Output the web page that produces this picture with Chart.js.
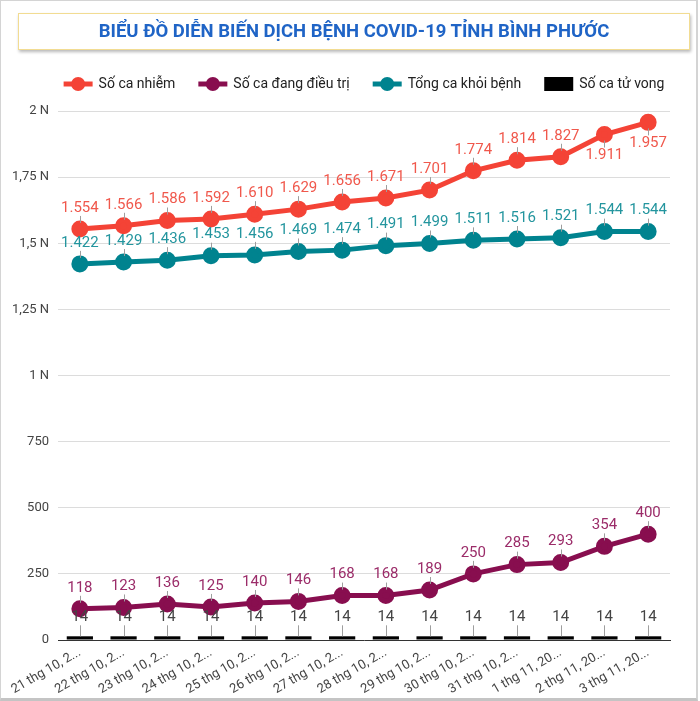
<!DOCTYPE html>
<html>
<head>
<meta charset="utf-8">
<script src="https://cdn.jsdelivr.net/npm/chart.js@4.4.0/dist/chart.umd.min.js"></script>
<style>
	body { margin: 0; background: #fff; font-family: Roboto, sans-serif; }
	#khung { position: relative; width: 698px; height: 701px; box-sizing: border-box;
		border: 1px solid #d4d4d4; border-right-width: 2px; border-bottom: 3px solid #c4c4c4; }
	#tieude { position: absolute; left: 17px; top: 12px; width: 672px; height: 37px; box-sizing: border-box;
		border: 1px solid #f2dc92; box-shadow: 1px 2px 3px rgba(0,0,0,0.28); background: #fff;
		text-align: center; line-height: 35px; font-weight: bold; font-size: 18.5px; color: #1f64c6; z-index: 2; }
	#canvas { position: absolute; left: 0; top: 0; }
</style>
</head>
<body>
<div id="khung">
	<div id="tieude">BIỂU ĐỒ DIỄN BIẾN DỊCH BỆNH COVID-19 TỈNH BÌNH PHƯỚC</div>
	<canvas id="canvas" width="695" height="697"></canvas>
</div>
<script>
// du lieu doc tu bieu do
var ngay = ['21 thg 10, 2021', '22 thg 10, 2021', '23 thg 10, 2021', '24 thg 10, 2021', '25 thg 10, 2021',
	'26 thg 10, 2021', '27 thg 10, 2021', '28 thg 10, 2021', '29 thg 10, 2021', '30 thg 10, 2021',
	'31 thg 10, 2021', '1 thg 11, 2021', '2 thg 11, 2021', '3 thg 11, 2021'];
var soCaNhiem = [1554, 1566, 1586, 1592, 1610, 1629, 1656, 1671, 1701, 1774, 1814, 1827, 1911, 1957];
var dangDieuTri = [118, 123, 136, 125, 140, 146, 168, 168, 189, 250, 285, 293, 354, 400];
var khoiBenh = [1422, 1429, 1436, 1453, 1456, 1469, 1474, 1491, 1499, 1511, 1516, 1521, 1544, 1544];
var tuVong = [14, 14, 14, 14, 14, 14, 14, 14, 14, 14, 14, 14, 14, 14];
var mocTrucY = [0, 250, 500, 750, 1000, 1250, 1500, 1750, 2000];

function soDep(v) {
	// 1554 -> 1.554
	return String(v).replace(/\B(?=(\d{3})+(?!\d))/g, '.');
}

var nhanSo = {
	id: 'nhanSo',
	afterDatasetsDraw: function(chart) {
		var ctx = chart.ctx;
		ctx.save();
		ctx.font = '15px Roboto';
		ctx.textAlign = 'center';
		ctx.textBaseline = 'middle';
		chart.data.datasets.forEach(function(ds, i) {
			var meta = chart.getDatasetMeta(i);
			meta.data.forEach(function(el, j) {
				var x = el.x, y = el.y, ty, l1, l2;
				if (ds.type == 'line') {
					if (y - 32 < chart.chartArea.top) {
						ty = y + 21; l1 = y + 6; l2 = y + 13;
					} else {
						ty = y - 21; l1 = y - 6; l2 = y - 13;
					}
				} else {
					ty = y - 19; l1 = y; l2 = y - 11;
				}
				ctx.strokeStyle = '#9e9e9e';
				ctx.lineWidth = 1;
				ctx.beginPath();
				ctx.moveTo(Math.round(x) + 0.5, l1);
				ctx.lineTo(Math.round(x) + 0.5, l2);
				ctx.stroke();
				ctx.fillStyle = ds.nhanMau;
				ctx.fillText(soDep(ds.data[j]), x, ty);
			});
		});
		ctx.restore();
	}
};

var chuGiai = {
	id: 'chuGiai',
	afterDraw: function(chart) {
		var ctx = chart.ctx;
		var area = chart.chartArea;
		ctx.save();
		ctx.font = '14px Roboto';
		ctx.textBaseline = 'middle';
		var mW = 29, gap = 6, khoang = 23;
		var tong = 0;
		chart.data.datasets.forEach(function(ds, i) {
			tong += mW + gap + ctx.measureText(ds.label).width + (i > 0 ? khoang : 0);
		});
		var x = (area.left + area.right) / 2 - tong / 2;
		var y = 83;
		chart.data.datasets.forEach(function(ds) {
			if (ds.type == 'line') {
				ctx.strokeStyle = ds.borderColor;
				ctx.lineWidth = 5;
				ctx.beginPath();
				ctx.moveTo(x, y);
				ctx.lineTo(x + mW, y);
				ctx.stroke();
				ctx.fillStyle = ds.borderColor;
				ctx.beginPath();
				ctx.arc(x + mW / 2, y, 7, 0, Math.PI * 2);
				ctx.fill();
			} else {
				ctx.fillStyle = ds.backgroundColor;
				ctx.fillRect(x, y - 7, mW, 14);
			}
			x += mW + gap;
			ctx.fillStyle = '#222';
			ctx.fillText(ds.label, x, y);
			x += ctx.measureText(ds.label).width + khoang;
		});
		ctx.restore();
	}
};

function dataLine(nhan, du, mau, nhanMau) {
	return {
		type: 'line', label: nhan, data: du,
		borderColor: mau, backgroundColor: mau,
		pointBackgroundColor: mau, pointBorderColor: mau,
		borderWidth: 5, pointRadius: 6, pointHoverRadius: 6,
		tension: 0, fill: false, nhanMau: nhanMau
	};
}

var ctx = document.getElementById('canvas').getContext('2d');
var chart = new Chart(ctx, {
	type: 'bar',
	data: {
		labels: ngay,
		datasets: [
			dataLine('Số ca nhiễm', soCaNhiem, '#f44336', '#f0584c'),
			dataLine('Số ca đang điều trị', dangDieuTri, '#880e4f', '#9b2c69'),
			dataLine('Tổng ca khỏi bệnh', khoiBenh, '#00838f', '#23959e'),
			{
				type: 'bar', label: 'Số ca tử vong', data: tuVong,
				backgroundColor: '#000', barPercentage: 0.75, categoryPercentage: 0.8,
				nhanMau: '#444'
			}
		]
	},
	options: {
		responsive: false,
		animation: false,
		events: [],
		layout: { padding: { top: 110, right: 26, left: 0, bottom: 0 } },
		plugins: {
			legend: { display: false },
			tooltip: { enabled: false }
		},
		scales: {
			x: {
				grid: { display: true, color: 'transparent', drawTicks: false },
				border: { display: true, color: '#333', width: 1 },
				ticks: {
					color: '#444', font: { family: 'Roboto', size: 13 },
					minRotation: 30, maxRotation: 30, padding: 5, autoSkip: false,
					callback: function(v) {
						var s = this.getLabelForValue(v);
						return s.length > 12 ? s.slice(0, 12) + '...' : s;
					}
				},
				afterFit: function(scale) { scale.height = 58; }
			},
			y: {
				min: 0, max: 2000,
				afterBuildTicks: function(scale) {
					scale.ticks = mocTrucY.map(function(v) { return { value: v }; });
				},
				grid: { color: '#dcdcdc', drawTicks: false },
				border: { display: false },
				ticks: {
					color: '#444', font: { family: 'Roboto', size: 13 }, padding: 9,
					callback: function(v) {
						return v >= 1000 ? String(v / 1000).replace('.', ',') + ' N' : v;
					}
				},
				afterFit: function(scale) { scale.width = 57; }
			}
		}
	},
	plugins: [nhanSo, chuGiai]
});
</script>
</body>
</html>
